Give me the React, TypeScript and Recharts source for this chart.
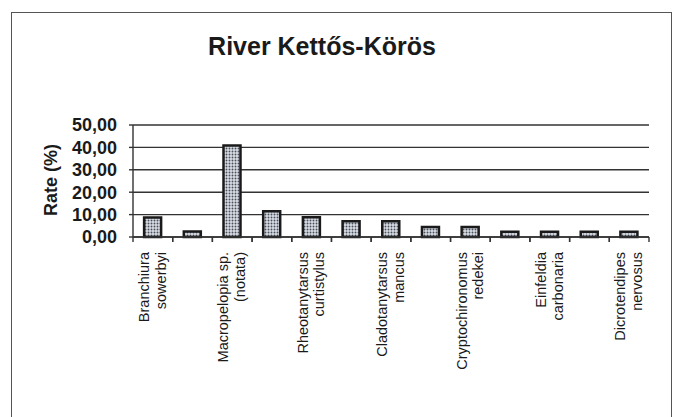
import React from 'react';
import { BarChart, Bar, XAxis, YAxis, CartesianGrid, Label } from 'recharts';

const categories: string[] = [
  'Branchiura sowerbyi',
  'taxon 2',
  'Macropelopia sp. (notata)',
  'taxon 4',
  'Rheotanytarsus curtistylus',
  'taxon 6',
  'Cladotanytarsus mancus',
  'taxon 8',
  'Cryptochironomus redekei',
  'taxon 10',
  'Einfeldia carbonaria',
  'taxon 12',
  'Dicrotendipes nervosus',
];

const labelLines: string[][] = [
  ['Branchiura', 'sowerbyi'],
  [],
  ['Macropelopia sp.', '(notata)'],
  [],
  ['Rheotanytarsus', 'curtistylus'],
  [],
  ['Cladotanytarsus', 'mancus'],
  [],
  ['Cryptochironomus', 'redekei'],
  [],
  ['Einfeldia', 'carbonaria'],
  [],
  ['Dicrotendipes', 'nervosus'],
];

const rates: number[] = [8.7, 2.5, 40.8, 11.5, 8.8, 7.0, 7.0, 4.5, 4.5, 2.3, 2.3, 2.3, 2.3];

const yTicks: number[] = [0, 10, 20, 30, 40, 50];

const data = categories.map((name, i) => ({ name, rate: rates[i], idx: i }));

const FONT = '"Liberation Sans", Arial, Helvetica, sans-serif';

const CategoryTick = (props: any) => {
  const { x, y, payload, index } = props;
  const half = payload && typeof payload.offset === 'number' && payload.offset > 0 ? payload.offset : 19.85;
  const lines = labelLines[index] || [];
  const lineGap = 16.5;
  const n = lines.length;
  return (
    <g>
      <line x1={x - half} y1={y} x2={x - half} y2={y + 5} stroke="#333" strokeWidth={1.4} />
      <line x1={x + half} y1={y} x2={x + half} y2={y + 5} stroke="#333" strokeWidth={1.4} />
      {lines.map((ln, k) => {
        const lx = x + (k - (n - 1) / 2) * lineGap + 4.5;
        const ly = y + 15;
        return (
          <text
            key={k}
            x={lx}
            y={ly}
            transform={`rotate(-90, ${lx}, ${ly})`}
            textAnchor="end"
            fontFamily={FONT}
            fontSize={14.5}
            fill="#1a1a1a"
          >
            {ln}
          </text>
        );
      })}
    </g>
  );
};

const fmt = (v: number) => v.toFixed(2).replace('.', ',');

export default function App() {
  return (
    <div style={{ position: 'absolute', left: 0, top: 0, width: 677, height: 417, background: '#fff', overflow: 'hidden' }}>
      <div
        style={{
          position: 'absolute',
          left: 11,
          top: 12,
          width: 661,
          height: 420,
          border: '1.5px solid #555',
          boxSizing: 'border-box',
        }}
      />
      <div
        style={{
          position: 'absolute',
          left: 0,
          width: 644,
          top: 31,
          textAlign: 'center',
          fontFamily: FONT,
          fontWeight: 'bold',
          fontSize: 25,
          lineHeight: '30px',
          color: '#1a1a1a',
        }}
      >
        River Kettős-Körös
      </div>
      <div style={{ position: 'absolute', left: 0, top: 0 }}>
        <BarChart
          width={677}
          height={417}
          data={data}
          margin={{ top: 125, right: 28, bottom: 30, left: 0 }}
          barCategoryGap="28%"
        >
          <defs>
            <pattern id="dots" width="3" height="3" patternUnits="userSpaceOnUse">
              <rect width="3" height="3" fill="#d9dde5" />
              <circle cx="1.5" cy="1.5" r="0.95" fill="#4a4f59" />
            </pattern>
          </defs>
          <CartesianGrid vertical={false} stroke="#333" strokeWidth={1.4} />
          <XAxis
            dataKey="name"
            interval={0}
            height={150}
            tickLine={false}
            tickSize={0}
            tickMargin={0}
            axisLine={{ stroke: '#333', strokeWidth: 1.4 }}
            tick={<CategoryTick />}
          />
          <YAxis
            width={133}
            domain={[0, 50]}
            ticks={yTicks}
            tickFormatter={fmt}
            tickSize={4}
            tickMargin={12}
            axisLine={{ stroke: '#333', strokeWidth: 1.4 }}
            tickLine={{ stroke: '#333', strokeWidth: 1.4 }}
            tick={{ fontFamily: FONT, fontWeight: 'bold', fontSize: 18, fill: '#1a1a1a' }}
            interval={0}
          >
            <Label
              content={() => (
                <text
                  x={57}
                  y={180}
                  transform="rotate(-90, 57, 180)"
                  textAnchor="middle"
                  fontFamily={FONT}
                  fontWeight="bold"
                  fontSize={18}
                  fill="#1a1a1a"
                >
                  Rate (%)
                </text>
              )}
            />
          </YAxis>
          <Bar dataKey="rate" fill="url(#dots)" stroke="#1a1a1a" strokeWidth={2.5} isAnimationActive={false} />
        </BarChart>
      </div>
    </div>
  );
}
